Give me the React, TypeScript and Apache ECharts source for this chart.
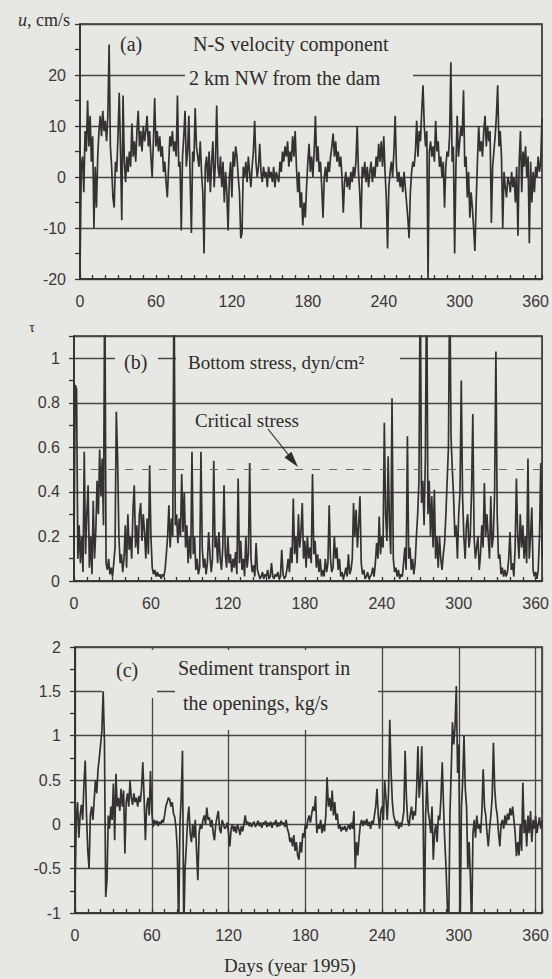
import React, { useEffect, useRef } from "react";
import * as echarts from "echarts";

// Day labels shown on every x axis
const dayTicks = [0, 60, 120, 180, 240, 300, 360];

// (a) N-S velocity u, cm/s, days 0..365
const uVelocity = [
  -19, 2, 4, -3, 9, 5, 15, 6, 12, 3,
  8, -10, 2, -6, 4, 9, 12, 8, 13, 9,
  11, 7, 12, 26, 6, 2, -4, -6, 3, 1,
  8, 16.5, 5, -8.5, 16, 3, -1, 4, 1, 5,
  2, 10.5, 4, 7, 3, 9, 13, 6, 9, 5,
  10, 7, 9, 12, 6, 9, 4, 0, 7, 15.5,
  6, 9, 5, 8, 4, 6, 1, 3, -1, -4,
  2, 8, 6, 9, 5, 7, 4, 16, 2, 3,
  -10.5, 4, 8, 13, 2, 5, 12, 0, -11, 5,
  3, 13.5, 6, 4, 2, 7, 1, -3, -15, 2,
  4, -1, 5, -3, 3, 7, -2, 3, 14, 2,
  0, 4, -2, 3, -5, 1, -3, -10.5, 0, 3,
  -4, 5, 2, 6, 4, 0, -3, -12, -11, 2,
  0, 3, -1, 4, 1, -2, 2, 5, 11, 3,
  0, 2, 6.5, 1, -1, 2, 0, 1, -2, 2,
  0, 1, -1, 2, -2, 1, 0, -1, 3, 1,
  5, 3, 6, 4, 7, 2, 5, 3, 8, 4,
  9, 2, -3, 1, -6, -3, -9.5, -5, -8, -2,
  3, 6.5, 1, 4, 0, 5, 12, 3, 6, 1,
  3, -2, -8, 0, 2, -1, 3, 1, 4, 6,
  8.5, 4, 7, 3, 5, 2, 4, 0, -7, -1,
  1, -2, 0, -2.5, 1, -1, 2, 0, 3, 10,
  1, -3, -10, 2, 0, 3, -1, 2, -2, 1,
  3, -1, 2, 0, 4, 2, 6.5, 3, 7, 2,
  8, 1, -4, -14, -2, 1, 3, 0, 5, 12,
  2, -1, 1, -2, 0, -3, 1, -2, -5, -8,
  -12, -3, 1, 3, 2, 5, 11, 4, 9, 7,
  13, 18, 10, 6, 9, -20, 5, 7, 4, 6,
  3, 11, 5, 7, 2, 4, 0, 3, -6, 2,
  5, 4, 8, 22.5, 3, 6, -15, 2, 12, 4,
  7, 10, 8, 17, 2, 4, -4, 1, -8, -3,
  -6, -10, -14.5, -5, 3, 10, 5, 7, 4, 9,
  12, 6, 10, 7, 9, -9, 2, 5, 8, 12,
  18, 6, 9, 4, -10, 1, -2, -4, 0, -1,
  -3, 1, -2, 0, -5, 2, -11.5, 3, 9, -3,
  5, 2, 6, 0, 4, -13, 3, -5, 1, -3,
  2, 0, 4, 1, 3, 11.5,
];

// (b) Bottom stress tau, dyn/cm2, days 0..365
const bottomStress = [
  0.15, 0.88, 0.86, 0.1, 0.25, 0.08, 0.2, 0.04, 0.58, 0.12,
  0.3, 0.43, 0.06, 0.2, 0.03, 0.36, 0.1, 0.22, 0.45, 0.3,
  0.59, 0.38, 0.55, 0.25, 1.4, 0.08, 0.05, 0.1, 0.03, 0.06,
  0.02, 0.08, 0.15, 0.76, 0.55, 0.2, 0.08, 0.12, 0.04, 0.1,
  0.25, 0.06, 0.3, 0.14, 0.2, 0.1, 0.32, 0.43, 0.15, 0.25,
  0.12, 0.3, 0.35, 0.18, 0.3, 0.22, 0.1, 0.28, 0.12, 0.52,
  0.2, 0.06, 0.03, 0.05, 0.02, 0.04, 0.02, 0.03, 0.01, 0.03,
  0.02, 0.05, 0.12, 0.2, 0.34, 0.15, 0.28, 0.2, 1.4, 0.25,
  0.3, 0.17, 0.28, 0.2, 0.48, 0.22, 0.4, 0.15, 0.25, 0.08,
  0.2, 0.1, 0.58, 0.12, 0.2, 0.05, 0.1, 0.03, 0.06, 0.58,
  0.15, 0.06, 0.1, 0.03, 0.08, 0.22, 0.12, 0.04, 0.1, 0.54,
  0.15, 0.2, 0.08, 0.22, 0.1, 0.05, 0.15, 0.43, 0.12, 0.06,
  0.2, 0.08, 0.12, 0.04, 0.1, 0.06, 0.13, 0.03, 0.46, 0.08,
  0.18, 0.05, 0.1, 0.02, 0.2, 0.06, 0.12, 0.53, 0.1, 0.04,
  0.07, 0.02, 0.17, 0.05, 0.03, 0.01, 0.02, 0.04, 0.01, 0.03,
  0.02, 0.05, 0.01, 0.02, 0.08, 0.02, 0.01, 0.03, 0.02, 0.04,
  0.01, 0.02, 0.14, 0.03, 0.01, 0.02, 0.05, 0.1, 0.04, 0.15,
  0.08, 0.37, 0.12, 0.2, 0.08, 0.3, 0.15, 0.22, 0.35, 0.1,
  0.18, 0.06, 0.2, 0.1, 0.15, 0.08, 0.48, 0.12, 0.18, 0.06,
  0.12, 0.04, 0.1, 0.02, 0.05, 0.02, 0.1, 0.04, 0.08, 0.34,
  0.1, 0.04, 0.06, 0.2, 0.1, 0.15, 0.05, 0.1, 0.02, 0.04,
  0.01, 0.03, 0.06, 0.02, 0.12, 0.03, 0.05, 0.1, 0.35, 0.2,
  0.32, 0.15, 0.25, 0.38, 0.08, 0.03, 0.05, 0.01, 0.02, 0.04,
  0.01, 0.02, 0.03, 0.06, 0.02, 0.08, 0.17, 0.1, 0.29, 0.12,
  0.2, 0.15, 0.71, 0.3, 0.18, 0.56, 0.25, 0.12, 0.82, 0.1,
  0.04, 0.06, 0.02, 0.05, 0.01, 0.03, 0.02, 0.08, 0.15, 0.05,
  0.65, 0.1, 0.15, 0.05, 0.1, 0.03, 0.08, 0.2, 0.3, 0.45,
  1.4, 0.35, 0.45, 0.25, 0.55, 1.4, 0.3, 0.45, 0.2, 0.38,
  0.15, 0.41, 0.1, 0.2, 0.06, 0.2, 0.1, 0.05, 0.12, 0.17,
  0.3, 0.45, 0.6, 1.4, 0.65, 0.5, 0.38, 0.2, 0.25, 0.1,
  0.3, 0.4, 0.9, 0.38, 0.2, 0.1, 0.25, 0.3, 0.15, 0.2,
  0.4, 0.75, 0.2, 0.1, 0.15, 0.2, 0.05, 0.12, 0.25, 0.15,
  0.44, 0.2, 0.3, 0.2, 0.1, 0.38, 0.15, 0.2, 0.4, 1.03,
  0.3, 0.1, 0.12, 0.03, 0.06, 0.02, 0.05, 0.02, 0.04, 0.1,
  0.22, 0.05, 0.08, 0.02, 0.15, 0.46, 0.2, 0.1, 0.3, 0.15,
  0.25, 0.1, 0.2, 0.08, 0.55, 0.1, 0.2, 0.33, 0.05, 0.02,
  0.04, 0.01, 0.05, 0.2, 0.53, 0.1,
];

const criticalStress = 0.5;

// (c) Sediment transport in the openings, kg/s, days 0..365
const sedimentTransport = [
  -0.7, 0.05, 0.25, -0.15, 0.1, 0.22, 0.05, 0.46, 0.72, 0.1,
  -0.3, -0.5, 0.1, 0.2, 0.05, 0.28, 0.5, 0.35, 0.62, 0.75,
  0.9, 1.05, 1.5, 0.95, -0.82, -0.63, 0.1, -0.05, 0.2, 0.05,
  0.46, -0.18, 0.57, 0.2, 0.3, 0.15, 0.4, 0.2, 0.38, -0.33,
  0.25, 0.35, 0.2, 0.49, 0.3, 0.22, 0.35, 0.25, 0.3, 0.2,
  0.32, 0.25, 0.4, 0.7, 0.3, -0.18, 0.2, 0.3, 0.1, 0.6,
  0.15, -0.03, 0.05, 0, 0.04, -0.02, 0.03, 0, 0.05, 0.02,
  0.1, 0.2, 0.25, 0.3, 0.28, 0.2, 0.25, 0.12, 0.08, -0.05,
  -0.3, -1.2, 0, 0.3, 0.83, -1.2, -0.5, -0.25, 0.05, 0.2,
  -0.1, -0.2, 0, -0.15, 0.05, -0.3, -0.63, -0.1, 0, -0.05,
  0.05, 0.1, 0, 0.19, 0.05, 0.08, -0.03, 0.05, -0.1, -0.18,
  0, 0.08, 0.15, -0.05, -0.1, 0.05, 0, -0.05, -0.03, 0.02,
  -0.1, -0.25, -0.05, 0, -0.08, -0.02, -0.1, 0, -0.05, -0.12,
  -0.02, -0.08, 0, 0.1, 0, 0.03, -0.02, 0.02, -0.03, 0.01,
  0.03, -0.03, 0, 0.04, -0.02, 0.02, -0.04, 0.02, 0, 0.04,
  -0.03, 0.02, -0.02, 0.03, -0.04, 0.02, 0, 0.05, -0.03, 0.02,
  -0.02, 0.04, 0, 0.02, -0.03, 0.05, -0.05, -0.1, -0.2, -0.15,
  -0.25, -0.12, -0.3, -0.2, -0.35, -0.4, -0.2, -0.32, -0.1, -0.15,
  0, -0.05, 0.05, 0.1, 0.02, 0.12, 0.2, 0.15, 0.32, -0.1,
  0, -0.05, 0.05, -0.1, 0, -0.08, 0.1, 0.53, 0.2, 0.3,
  0.15, 0.38, 0.1, 0.25, 0.05, 0.12, -0.05, 0, -0.08, -0.03,
  -0.06, -0.02, -0.08, -0.04, 0, -0.06, 0.02, -0.05, 0.15, -0.5,
  -0.2, -0.35, -0.15, 0, 0.05, -0.02, 0.04, 0, 0.06, -0.02,
  0.03, -0.05, 0.04, 0, 0.1, 0.2, 0.4, 0.1, -0.05, 0.15,
  0.2, 0.05, 0.5, 0.3, 0.05, 0.35, 1.18, 0.6, 0.25, 0.1,
  0.05, -0.02, 0.04, -0.05, 0.02, -0.03, 0.05, 0.15, 0.83, 0.3,
  0.05, -0.02, 0.1, 0.2, 0.05, 0.15, 0.1, 0.4, 0.88, 0.3,
  0.5, 0.88, 0.2, -1.2, 0.1, 0.5, 0.15, 0.05, -0.1, 0.2,
  -0.4, -0.1, 0, -0.2, 0.1, 0.05, 0.3, 0.7, 0.2, -0.2,
  -0.5, -0.92, -1.2, 0.1, 0.6, 1.15, 0.9, 1.1, 1.56, 0.58,
  0.9, -1.2, 0.2, 0.5, 1.0, 0.4, 0.2, -0.5, -0.2, -0.6,
  -1.2, -0.1, 0.05, -0.15, 0.1, -0.05, 0, -0.1, 0.15, 0.62,
  0.2, 0.1, -0.1, -0.25, -0.05, 0.1, 0.3, 0.92, 0.4, 0.2,
  0.1, -0.1, -0.25, 0, 0.05, -0.05, 0.1, 0, 0.12, 0.05,
  0.18, 0.1, 0.2, 0.05, -0.1, -0.36, -0.2, -0.35, 0, -0.3,
  0.47, -0.1, 0.05, -0.25, 0.1, -0.1, 0.15, -0.2, 0.05, -0.05,
  0.1, -0.1, 0, 0.08, -0.05, 0.05,
];

const BG = "#e7e7e4";
const INK = "#353131";
const GRIDC = "#4a4646";
const SANS = "'Liberation Sans', Arial, sans-serif";
const SERIF = "'Liberation Serif', 'Times New Roman', serif";

const pairs = (arr: number[]) => arr.map((v, i) => [i, v]);

export default function App() {
  const ref = useRef<HTMLDivElement>(null);

  useEffect(() => {
    document.body.style.margin = "0";
    const chart = echarts.init(ref.current!, null, { renderer: "svg" });

    const grids = [
      { left: 80, top: 24, width: 464, height: 255 },
      { left: 74, top: 336, width: 469, height: 245 },
      { left: 75, top: 647, width: 468, height: 266 },
    ];

    const near = (v: number, s: number) => Math.abs(v / s - Math.round(v / s)) < 1e-6;

    const mainX = (gi: number) => ({
      type: "value",
      gridIndex: gi,
      min: 0,
      max: 365,
      interval: 10,
      axisLine: { show: true, onZero: false, lineStyle: { color: INK, width: 1.7 } },
      axisTick: { show: true, inside: true, length: 4, lineStyle: { color: INK, width: 1.3 } },
      splitLine: { show: false },
      axisLabel: {
        color: "#3a3838",
        fontFamily: SANS,
        fontSize: 16,
        margin: 14,
        formatter: (v: number) => (dayTicks.includes(Math.round(v)) && near(v, 60) ? String(Math.round(v)) : ""),
      },
    });

    const mainY = (gi: number, min: number, max: number, step: number, labelStep: number, hideAbove: number) => ({
      type: "value",
      gridIndex: gi,
      min,
      max,
      interval: step,
      axisLine: { show: true, onZero: false, lineStyle: { color: INK, width: 1.7 } },
      axisTick: { show: true, inside: false, length: 5, lineStyle: { color: INK, width: 1.3 } },
      splitLine: { show: false },
      axisLabel: {
        color: "#3a3838",
        fontFamily: SANS,
        fontSize: 16,
        margin: 14,
        formatter: (v: number) => {
          if (v > hideAbove + 1e-6) return "";
          if (!near(v, labelStep)) return "";
          return String(Math.round(v * 100) / 100);
        },
      },
    });

    const gridY = (gi: number, min: number, max: number, step: number) => ({
      type: "value",
      gridIndex: gi,
      min,
      max,
      interval: step,
      position: "left",
      axisLine: { show: false },
      axisTick: { show: false },
      axisLabel: { show: false },
      splitLine: { show: true, lineStyle: { color: GRIDC, width: 1.3 } },
    });

    const seriesLine = { color: INK, width: 1.7, join: "bevel" };

    const option: any = {
      animation: false,
      backgroundColor: BG,
      grid: grids.map((g) => ({ ...g, show: true, borderColor: INK, borderWidth: 1.7, backgroundColor: "transparent" })),
      xAxis: [
        mainX(0),
        mainX(1),
        mainX(2),
        {
          type: "value",
          gridIndex: 2,
          min: 0,
          max: 365,
          interval: 60,
          position: "bottom",
          axisLine: { show: false },
          axisTick: { show: false },
          axisLabel: { show: false },
          splitLine: { show: true, lineStyle: { color: GRIDC, width: 1.3 } },
        },
      ],
      yAxis: [
        mainY(0, -20, 30, 5, 10, 20),
        mainY(1, 0, 1.1, 0.1, 0.2, 1),
        mainY(2, -1, 2, 0.25, 0.5, 2),
        gridY(0, -20, 30, 10),
        gridY(1, 0, 1.1, 0.2),
        gridY(2, -1, 2, 0.5),
      ],
      series: [
        {
          type: "line",
          xAxisIndex: 0,
          yAxisIndex: 0,
          data: pairs(uVelocity),
          showSymbol: false,
          symbol: "none",
          clip: true,
          lineStyle: seriesLine,
        },
        {
          type: "line",
          xAxisIndex: 1,
          yAxisIndex: 1,
          data: pairs(bottomStress),
          showSymbol: false,
          symbol: "none",
          clip: true,
          lineStyle: seriesLine,
          markLine: {
            silent: true,
            symbol: "none",
            label: { show: false },
            lineStyle: { color: "#6a6666", width: 1.1, type: [8, 9] },
            data: [{ yAxis: criticalStress }],
          },
        },
        {
          type: "line",
          xAxisIndex: 2,
          yAxisIndex: 2,
          data: pairs(sedimentTransport),
          showSymbol: false,
          symbol: "none",
          clip: true,
          lineStyle: seriesLine,
        },
      ],
      graphic: [
        // masks hiding grid lines behind the annotation texts
        { type: "rect", z: 1, shape: { x: 185, y: 63, width: 228, height: 28 }, style: { fill: BG } },
        { type: "rect", z: 1, shape: { x: 115, y: 346, width: 43, height: 30 }, style: { fill: BG } },
        { type: "rect", z: 1, shape: { x: 176, y: 346, width: 224, height: 30 }, style: { fill: BG } },
        { type: "rect", z: 1, shape: { x: 102, y: 650, width: 55, height: 48 }, style: { fill: BG } },
        { type: "rect", z: 1, shape: { x: 175, y: 650, width: 203, height: 80 }, style: { fill: BG } },
        // texts
        {
          type: "text",
          z: 20,
          style: {
            x: 70,
            y: 20,
            align: "right",
            verticalAlign: "middle",
            text: "{i|u}{n|, cm/s}",
            rich: {
              i: { font: `italic 18px ${SERIF}`, fill: "#2e2b2b" },
              n: { font: `18px ${SERIF}`, fill: "#2e2b2b" },
            },
          },
        },
        { type: "text", z: 20, style: { x: 120, y: 44, text: "(a)", font: `20px ${SERIF}`, fill: "#2e2b2b", verticalAlign: "middle" } },
        { type: "text", z: 20, style: { x: 193, y: 44, text: "N-S velocity component", font: `20px ${SERIF}`, fill: "#2e2b2b", verticalAlign: "middle" } },
        { type: "text", z: 20, style: { x: 189, y: 78, text: "2 km NW from the dam", font: `20px ${SERIF}`, fill: "#2e2b2b", verticalAlign: "middle" } },
        { type: "text", z: 20, style: { x: 32, y: 327, text: "τ", font: `15px ${SERIF}`, fill: "#2e2b2b", align: "center", verticalAlign: "middle" } },
        { type: "text", z: 20, style: { x: 124, y: 362, text: "(b)", font: `20px ${SERIF}`, fill: "#2e2b2b", verticalAlign: "middle" } },
        { type: "text", z: 20, style: { x: 188, y: 362, text: "Bottom stress, dyn/cm²", font: `19px ${SERIF}`, fill: "#2e2b2b", verticalAlign: "middle" } },
        { type: "text", z: 20, style: { x: 195, y: 420, text: "Critical stress", font: `19px ${SERIF}`, fill: "#2e2b2b", verticalAlign: "middle" } },
        { type: "line", z: 20, shape: { x1: 268, y1: 429, x2: 291, y2: 458 }, style: { stroke: "#2e2b2b", lineWidth: 1.2 } },
        { type: "polygon", z: 20, shape: { points: [[298, 467], [284.4, 457.4], [291.4, 451.8]] }, style: { fill: "#2e2b2b" } },
        { type: "text", z: 20, style: { x: 116, y: 670, text: "(c)", font: `20px ${SERIF}`, fill: "#2e2b2b", verticalAlign: "middle" } },
        { type: "text", z: 20, style: { x: 178, y: 668, text: "Sediment transport in", font: `20px ${SERIF}`, fill: "#2e2b2b", verticalAlign: "middle" } },
        { type: "text", z: 20, style: { x: 183, y: 703, text: "the openings, kg/s", font: `20px ${SERIF}`, fill: "#2e2b2b", verticalAlign: "middle" } },
        { type: "text", z: 20, style: { x: 290, y: 965, text: "Days (year 1995)", font: `19px ${SERIF}`, fill: "#2e2b2b", align: "center", verticalAlign: "middle" } },
      ],
    };

    chart.setOption(option);
    return () => chart.dispose();
  }, []);

  return (
    <div
      ref={ref}
      style={{ position: "absolute", left: 0, top: 0, width: 552, height: 979, background: BG }}
    />
  );
}
